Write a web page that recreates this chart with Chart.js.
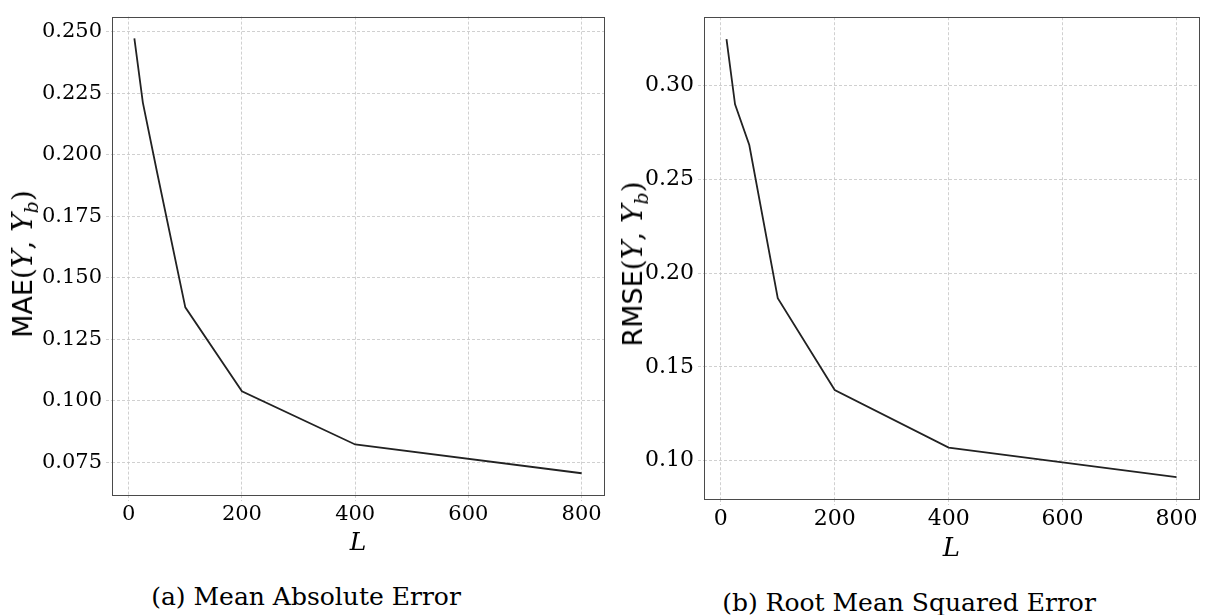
<!DOCTYPE html>
<html>
<head>
<meta charset="utf-8">
<script src="https://cdn.jsdelivr.net/npm/chart.js@4/dist/chart.umd.min.js"></script>
<style>
  html, body { margin: 0; padding: 0; background: #fff; }
  body { width: 1211px; height: 615px; position: relative; overflow: hidden; }
  .box { position: absolute; }
  .ylab, .cap {
    position: absolute;
    white-space: nowrap;
    color: #000;
    line-height: 1;
  }
  .ylab { transform: translate(-50%, -50%) rotate(-90deg); }
  .ylab .sf { font-family: "DejaVu Sans", sans-serif; font-size: 27px; }
  .ylab .mt { font-family: "DejaVu Serif", serif; font-size: 28px; }
  .ylab i { font-family: "DejaVu Serif", serif; }
  .ylab sub { font-size: 19px; vertical-align: -6px; line-height: 0; }
  .cap {
    transform: translate(-50%, -50%);
    font-family: "DejaVu Serif", serif;
    font-size: 25px;
  }
</style>
</head>
<body>
<div class="box" id="boxA" style="left:0px;top:0px;width:620px;height:570px"><canvas id="chartA"></canvas></div>
<div class="box" id="boxB" style="left:610px;top:0px;width:601px;height:570px"><canvas id="chartB"></canvas></div>

<div class="ylab" style="left:23px;top:264px"><span class="sf">MAE</span><span class="mt">(<i>Y</i>, <i>Y</i><sub><i>b</i></sub>)</span></div>
<div class="ylab" style="left:633px;top:264px"><span class="sf">RMSE</span><span class="mt">(<i>Y</i>, <i>Y</i><sub><i>b</i></sub>)</span></div>

<div class="cap" style="left:306px;top:596px">(a) Mean Absolute Error</div>
<div class="cap" style="left:909px;top:602px">(b) Root Mean Squared Error</div>

<script>
// values
const lValues = [10, 25, 50, 100, 200, 400, 800];
const maeValues = [0.2473, 0.2212, 0.193, 0.138, 0.1039, 0.0823, 0.0706];
const rmseValues = [0.3246, 0.2899, 0.2682, 0.1866, 0.1377, 0.107, 0.0913];

const xTicks = [0, 200, 400, 600, 800];
const maeTicks = [0.075, 0.100, 0.125, 0.150, 0.175, 0.200, 0.225, 0.250];
const rmseTicks = [0.10, 0.15, 0.20, 0.25, 0.30];

const gridColor = '#c4c4c4';
const lineColor = '#222222';
const serif = '"DejaVu Serif", serif';

// matplotlib-like 5% margins around the data
function padRange(vals) {
	const lo = Math.min(...vals), hi = Math.max(...vals);
	const m = (hi - lo) * 0.05;
	return { min: lo - m, max: hi + m };
}

// draws the full box around the plot area
const framePlugin = {
	id: 'frame',
	afterDraw(chart) {
		const { ctx, chartArea: a } = chart;
		ctx.save();
		ctx.strokeStyle = '#4a4a4a';
		ctx.lineWidth = 1;
		ctx.strokeRect(Math.round(a.left) + 0.5, Math.round(a.top) + 0.5,
			Math.round(a.right - a.left), Math.round(a.bottom - a.top));
		ctx.restore();
	},
};

function makeChart(id, values, yTicks, decimals, opts) {
	const xr = padRange(lValues);
	const yr = padRange(values);
	const ctx = document.getElementById(id).getContext('2d');
	return new Chart(ctx, {
		type: 'line',
		data: {
			datasets: [
				{
					data: lValues.map((l, i) => ({ x: l, y: values[i] })),
					borderColor: lineColor,
					borderWidth: 1.8,
					pointRadius: 0,
					tension: 0,
					fill: false,
				},
			],
		},
		options: {
			responsive: true,
			maintainAspectRatio: false,
			animation: false,
			layout: { padding: opts.padding },
			plugins: { legend: { display: false }, tooltip: { enabled: false } },
			scales: {
				x: {
					type: 'linear',
					min: xr.min,
					max: xr.max,
					afterBuildTicks: (s) => { s.ticks = xTicks.map((v) => ({ value: v })); },
					afterFit: (s) => { s.height = opts.xHeight; },
					grid: {
						color: gridColor,
						lineWidth: 0.8,
						tickLength: 6,
						tickColor: gridColor,
						tickBorderDash: [3, 2],
					},
					border: { display: false, dash: [3, 2] },
					ticks: {
						color: '#000',
						padding: 1,
						maxRotation: 0,
						font: { family: serif, size: opts.tickSize, lineHeight: 1.2 },
						callback: (v) => String(v),
					},
					title: {
						display: true,
						text: 'L',
						color: '#000',
						padding: { top: 0, bottom: opts.titlePad },
						font: { family: serif, size: opts.titleSize, style: 'italic', lineHeight: 1 },
					},
				},
				y: {
					min: yr.min,
					max: yr.max,
					afterBuildTicks: (s) => { s.ticks = yTicks.map((v) => ({ value: v })); },
					afterFit: (s) => { s.width = opts.yWidth; },
					grid: {
						color: gridColor,
						lineWidth: 0.8,
						tickLength: 6,
						tickColor: gridColor,
						tickBorderDash: [3, 2],
					},
					border: { display: false, dash: [3, 2] },
					ticks: {
						color: '#000',
						padding: 4,
						font: { family: serif, size: opts.tickSize },
						callback: (v) => Number(v).toFixed(decimals),
					},
				},
			},
		},
		plugins: [framePlugin],
	});
}

makeChart('chartA', maeValues, maeTicks, 3, {
	padding: { left: 0, top: 14, right: 16, bottom: 0 },
	yWidth: 112,
	xHeight: 75,
	tickSize: 21,
	titleSize: 25,
	titlePad: 14,
});

makeChart('chartB', rmseValues, rmseTicks, 2, {
	padding: { left: 0, top: 9, right: 12, bottom: 0 },
	yWidth: 94,
	xHeight: 71,
	tickSize: 22,
	titleSize: 26,
	titlePad: 8,
});
</script>
</body>
</html>
